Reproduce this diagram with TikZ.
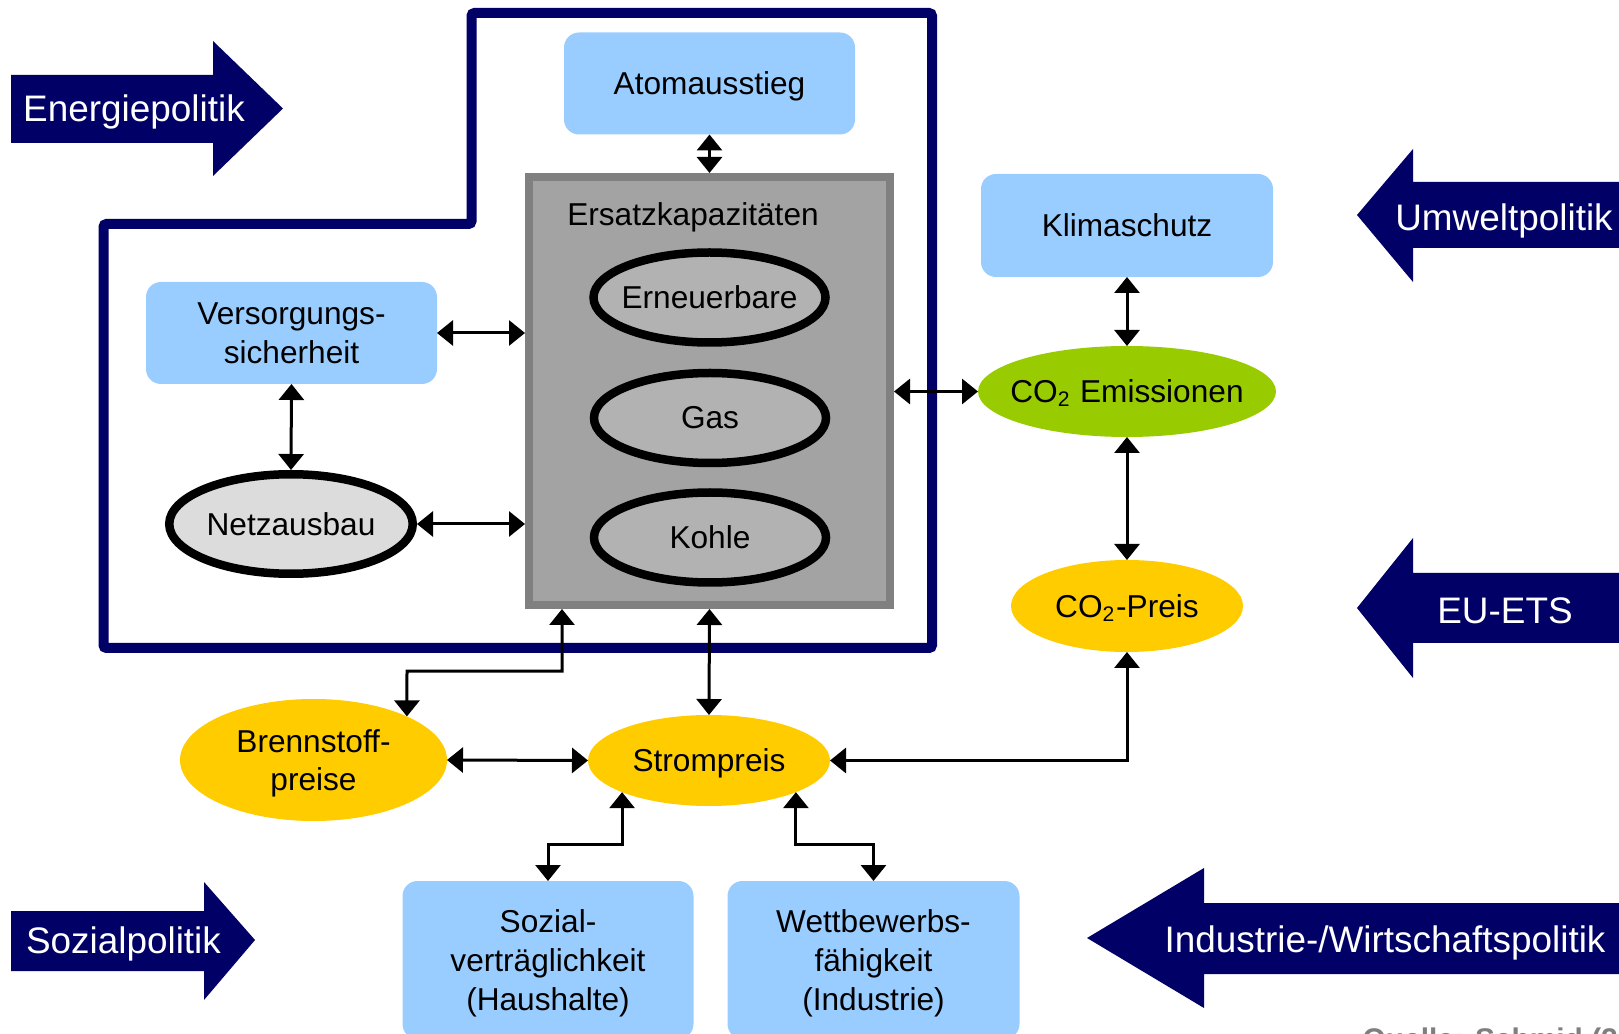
\documentclass[tikz,border=0pt]{standalone}
\usepackage{fontspec}
\setmainfont{Liberation Sans}
\usetikzlibrary{shapes.geometric,arrows.meta}
\definecolor{navy}{HTML}{000066}
\definecolor{hellblau}{HTML}{99CCFF}
\definecolor{gruen}{HTML}{99CC00}
\definecolor{gelb}{HTML}{FFCC00}
\definecolor{rahmengrau}{HTML}{808080}
\definecolor{kastengrau}{HTML}{A3A3A3}
\definecolor{ovalgrau}{HTML}{B2B2B2}
\definecolor{netzgrau}{HTML}{DCDCDC}
\definecolor{quellgrau}{HTML}{7F7F7F}
\tikzset{
	every node/.append style={font=\fontsize{9}{11}\selectfont},
	box/.style={rectangle,rounded corners=0.15cm,fill=hellblau,minimum width=2.91cm,minimum height=1.02cm,inner sep=0pt,outer sep=0pt,align=center,text depth=0pt},
	oval/.style={ellipse,inner sep=0pt,inner xsep=-0.4cm,outer sep=0pt,align=center,text depth=0pt},
	kern/.style={ellipse,draw=black,line width=0.085cm,fill=ovalgrau,inner sep=0pt,inner xsep=-0.4cm,minimum width=2.32cm,minimum height=0.90cm},
	link/.style={{Triangle[length=1.6mm,width=2.5mm]}-{Triangle[length=1.6mm,width=2.5mm]},line width=0.03cm},
	politik/.style={text=white,font=\fontsize{10.5}{12.6}\selectfont,inner sep=0pt,text depth=0pt},
}
\begin{document}
\begin{tikzpicture}
			\useasboundingbox (0,0) rectangle (16.19,-10.34);
			\draw[navy,line width=0.1cm,rounded corners=0.03cm](4.715,-0.13)--(9.32,-0.13)--(9.32,-6.48)--(1.035,-6.48)--(1.035,-2.24)--(4.715,-2.24)--cycle;
			\fill[navy](0.11,-0.75)--(2.13,-0.75)--(2.13,-0.41)--(2.83,-1.085)--(2.13,-1.76)--(2.13,-1.43)--(0.11,-1.43)--cycle;
			\fill[navy](0.11,-9.11)--(2.04,-9.11)--(2.04,-8.82)--(2.55,-9.40)--(2.04,-10.0)--(2.04,-9.71)--(0.11,-9.71)--cycle;
			\fill[navy](16.3,-1.82)--(14.13,-1.82)--(14.13,-1.49)--(13.57,-2.15)--(14.13,-2.82)--(14.13,-2.48)--(16.3,-2.48)--cycle;
			\fill[navy](16.3,-5.73)--(14.13,-5.73)--(14.13,-5.38)--(13.57,-6.08)--(14.13,-6.78)--(14.13,-6.43)--(16.3,-6.43)--cycle;
			\fill[navy](16.3,-9.03)--(12.04,-9.03)--(12.04,-8.68)--(10.87,-9.38)--(12.04,-10.08)--(12.04,-9.74)--(16.3,-9.74)--cycle;
			\node[politik](energie) at (1.34,-1.08){Energiepolitik};
			\node[politik](sozialpol) at (1.235,-9.40){Sozialpolitik};
			\node[politik](umwelt) at (15.04,-2.17){Umweltpolitik};
			\node[politik](euets) at (15.05,-6.11){EU-ETS};
			\node[politik](industrie) at (13.85,-9.39){Industrie-/Wirtschaftspolitik};
			\node[box](atom) at (7.095,-0.835){Atomausstieg};
			\node[box](vers) at (2.915,-3.33){Versorgungs-\\sicherheit};
			\node[box,minimum width=2.92cm,minimum height=1.03cm](klima) at (11.27,-2.255){Klimaschutz};
			\node[box,minimum height=1.58cm](sozial) at (5.48,-9.60){Sozial-\\verträglichkeit\\(Haushalte)};
			\node[box,minimum width=2.92cm,minimum height=1.58cm](wettb) at (8.735,-9.60){Wettbewerbs-\\fähigkeit\\(Industrie)};
			\node[draw=rahmengrau,fill=kastengrau,line width=0.08cm,minimum width=3.61cm,minimum height=4.28cm,inner sep=0pt](ersatz) at (7.095,-3.91){};
			\node[text depth=0pt](ersatztitel) at (6.93,-2.14){Ersatzkapazitäten};
			\node[kern](ern) at (7.095,-2.975){Erneuerbare};
			\node[kern](gas) at (7.10,-4.18){Gas};
			\node[kern](kohle) at (7.10,-5.375){Kohle};
			\node[kern,fill=netzgrau,minimum width=2.435cm,minimum height=0.995cm](netz) at (2.91,-5.24){Netzausbau};
			\node[oval,fill=gruen,minimum width=2.98cm,minimum height=0.91cm](co2e) at (11.27,-3.915){CO\textsubscript{2} Emissionen};
			\node[oval,fill=gelb,minimum width=2.32cm,minimum height=0.92cm](co2p) at (11.27,-6.06){CO\textsubscript{2}-Preis};
			\node[oval,fill=gelb,minimum width=2.42cm,minimum height=0.91cm](strom) at (7.09,-7.605){Strompreis};
			\node[oval,fill=gelb,minimum width=2.67cm,minimum height=1.22cm](brenn) at (3.135,-7.60){Brennstoff-\\preise};
			\node[font=\fontsize{8.5}{10}\selectfont\bfseries,text=quellgrau,anchor=base west,inner sep=0pt](quelle) at (13.62,-10.495){Quelle: Schmid (20};
			\draw[link](atom.south)--(ersatz.north);
			\draw[link](vers.east)--(ersatz.west |- vers.east);
			\draw[link](vers.south)--(netz.north);
			\draw[link](netz.east)--(ersatz.west |- netz.east);
			\draw[link](ersatz.east |- co2e.west)--(co2e.west);
			\draw[link](klima.south)--(co2e.north);
			\draw[link](co2e.south)--(co2p.north);
			\draw[link](ersatz.south)--(strom.north);
			\draw[link](ersatz.south -| 5.62,0)|-(4.07,-6.71)--(brenn.25);
			\draw[link](brenn.east)--(strom.west);
			\draw[link](strom.east)-|(co2p.south);
			\draw[link](strom.200)--(strom.200 |- 0,-8.44)-|(sozial.north);
			\draw[link](strom.340)--(strom.340 |- 0,-8.44)-|(wettb.north);
		\end{tikzpicture}
\end{document}
